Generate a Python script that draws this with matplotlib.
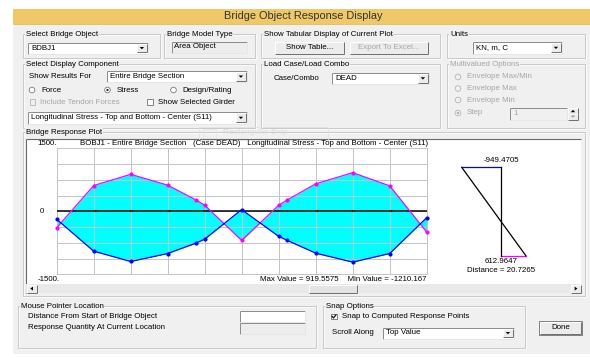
import numpy as np
import matplotlib
matplotlib.use("Agg")
import matplotlib.pyplot as plt
from matplotlib.patches import Rectangle, Circle, Polygon

plt.rcParams['font.family'] = ['Liberation Sans', 'DejaVu Sans']

# ---- response data along the bridge object (stations in m, stress in kN/m2) ----
stations = [0.0, 20.7265, 41.453, 62.1795, 78.0, 82.906, 103.6325,
            124.359, 129.2, 145.0855, 165.812, 186.5385, 207.265]
top_stress = [-191.0, -949.4705, -1195.0, -1005.0, -758.0, -662.0, 40.0,
              -598.0, -694.0, -997.0, -1210.167, -1005.0, -152.0]
bottom_stress = [-391.0, 612.9647, 880.0, 622.0, 271.0, 144.0, -694.0,
                 144.0, 271.0, 654.0, 919.5575, 606.0, -495.0]
cursor_index = 1
y_range = 1500.0
span_grid = 10

W, H = 590, 358
BG = '#F0F0F0'
FS = 5.7

fig = plt.figure(figsize=(W / 100, H / 100), dpi=100)
ax = fig.add_axes([0, 0, 1, 1])
ax.set_xlim(0, W)
ax.set_ylim(H, 0)
ax.axis('off')


def rect(x0, y0, x1, y1, fc, ec='none', lw=0.7, z=1):
    ax.add_patch(Rectangle((x0, y0), x1 - x0, y1 - y0, fc=fc, ec=ec, lw=lw, zorder=z))


def hline(x0, x1, y, c, lw=0.7, z=2):
    ax.plot([x0, x1], [y, y], color=c, lw=lw, zorder=z, solid_capstyle='butt')


def vline(x, y0, y1, c, lw=0.7, z=2):
    ax.plot([x, x], [y0, y1], color=c, lw=lw, zorder=z, solid_capstyle='butt')


def txt(x, y, s, color='#000000', size=FS, ha='left', z=5, **kw):
    ax.text(x, y, s, color=color, fontsize=size, ha=ha, va='center', zorder=z, **kw)


def sunken(x0, y0, x1, y1, fc='white', z=2):
    rect(x0, y0, x1, y1, fc, z=z)
    hline(x0, x1, y0, '#8A8A8A', z=z + 0.1)
    vline(x0, y0, y1, '#8A8A8A', z=z + 0.1)
    hline(x0, x1, y1, '#E6E6E6', z=z + 0.1)
    vline(x1, y0, y1, '#E6E6E6', z=z + 0.1)


def raised(x0, y0, x1, y1, fc='#ECECEC', z=3):
    rect(x0, y0, x1, y1, fc, z=z)
    hline(x0, x1, y0, 'white', z=z + 0.1)
    vline(x0, y0, y1, 'white', z=z + 0.1)
    hline(x0, x1, y1, '#6E6E6E', z=z + 0.1)
    vline(x1, y0, y1, '#6E6E6E', z=z + 0.1)


def group(x0, y0, x1, y1, label, color='#000000'):
    rect(x0, y0, x1, y1, 'none', ec='#C9C9C9', lw=0.7, z=1.5)
    rect(x0 + 0.8, y0 + 0.8, x1 + 0.8, y1 + 0.8, 'none', ec='white', lw=0.5, z=1.4)
    ax.text(x0 + 3, y0, label, color=color, fontsize=FS, ha='left', va='center', zorder=3,
            bbox=dict(fc=BG, ec='none', pad=0.4))


def combo(x0, y0, x1, y1, label):
    sunken(x0, y0, x1, y1)
    raised(x1 - 11, y0 + 1.2, x1 - 1.2, y1 - 1.2)
    cx, cy = x1 - 6.1, (y0 + y1) / 2
    ax.add_patch(Polygon([[cx - 2.2, cy - 1], [cx + 2.2, cy - 1], [cx, cy + 1.3]],
                         closed=True, fc='black', ec='none', zorder=4))
    txt(x0 + 3, (y0 + y1) / 2, label)


def button(x0, y0, x1, y1, label, color='#000000'):
    raised(x0, y0, x1, y1)
    txt((x0 + x1) / 2, (y0 + y1) / 2, label, color=color, ha='center')


def radio(x, y, label, checked=False, enabled=True):
    ec = '#7A7A7A' if enabled else '#B5B5B5'
    ax.add_patch(Circle((x, y), 2.8, fc='white' if enabled else BG, ec=ec, lw=0.6, zorder=3))
    if checked:
        ax.add_patch(Circle((x, y), 1.1, fc='#222222' if enabled else '#A8A8A8', ec='none', zorder=4))
    txt(x + 9, y, label, color='#000000' if enabled else '#A6A6A6')


def checkbox(x, y, label, checked=False, enabled=True):
    ec = '#6E6E6E' if enabled else '#B5B5B5'
    rect(x - 2.8, y - 2.8, x + 2.8, y + 2.8, 'white' if enabled else BG, ec=ec, lw=0.6, z=3)
    if checked:
        ax.plot([x - 1.8, x - 0.5, x + 1.9], [y - 0.1, y + 1.5, y - 1.6], color='#111111',
                lw=0.9, zorder=4)
    txt(x + 8, y, label, color='#000000' if enabled else '#A6A6A6')


# ---- window frame ----
rect(13, 9, W, 354, BG, z=0.5)
rect(13, 9, W, 23.5, '#EFC867', z=0.6)
hline(13, W, 23.5, '#E2B955', lw=0.6)
txt(303, 16.3, 'Bridge Object Response Display', color='#333333', size=7.9, ha='center')

# ---- top row ----
group(23, 34, 160, 58, 'Select Bridge Object')
combo(28, 42.5, 148, 53.5, 'BDBJ1')

group(164, 34, 255, 58, 'Bridge Model Type')
sunken(172, 41.5, 247, 52.5, fc='#EDEDED')
txt(174, 46.5, 'Area Object')

group(261, 34, 440, 58, 'Show Tabular Display of Current Plot')
button(275, 41.5, 344, 53.5, 'Show Table...')
button(350, 41.5, 428, 53.5, 'Export To Excel...', color='#A6A6A6')

group(447, 34, 585, 58, 'Units')
combo(473, 42, 562, 53.5, 'KN, m, C')

# ---- second row ----
group(23, 64, 255, 128, 'Select Display Component')
txt(29, 76.5, 'Show Results For')
combo(107, 71, 247, 82, 'Entire Bridge Section')
radio(32, 90, 'Force')
radio(107.5, 90, 'Stress', checked=True)
radio(173.5, 90, 'Design/Rating')
checkbox(32.5, 102, 'Include Tendon Forces', enabled=False)
checkbox(150, 102, 'Show Selected Girder')
combo(28, 112, 247, 123.5, 'Longitudinal Stress - Top and Bottom - Center (S11)')

group(261, 64, 440, 128, 'Load Case/Load Combo')
txt(274, 78, 'Case/Combo')
combo(332, 72.5, 429, 84, 'DEAD')

group(447, 64, 585, 128, 'Multivalued Options', color='#A6A6A6')
radio(458, 77, 'Envelope Max/Min', enabled=False)
radio(458, 88.5, 'Envelope Max', enabled=False)
radio(458, 100, 'Envelope Min', enabled=False)
radio(458, 113, 'Step', checked=True, enabled=False)
sunken(510, 108, 567, 119.5, fc=BG)
txt(513, 113.8, '1', color='#A6A6A6')
raised(568, 108, 578, 113.6)
raised(568, 114, 578, 119.5)
ax.add_patch(Polygon([[570.8, 112.2], [575.2, 112.2], [573, 109.8]], fc='black', ec='none', zorder=4))
ax.add_patch(Polygon([[570.8, 115.4], [575.2, 115.4], [573, 117.8]], fc='#A0A0A0', ec='none', zorder=4))

# ---- response plot panel ----
group(23, 132, 585, 296, 'Bridge Response Plot')
rect(26, 139, 581, 284, 'white', z=1.6)
hline(26, 581, 139, '#6A6A6A', lw=0.8, z=1.7)
vline(26, 139, 293, '#6A6A6A', lw=0.8, z=1.7)
# faint snipping-tool overlay above the plot
rect(199, 127, 328, 139.5, 'none', ec='#E2E2E2', lw=0.6, z=1.8)
txt(223, 133, 'Rectangular Snip', color='#DCDCDC', size=FS + 0.3)
rect(203, 129, 216, 138, 'none', ec='#E4E4E4', lw=0.5, z=1.8)

# scroll bar
rect(26, 284, 581, 293, '#E9E9E9', z=1.7)
raised(27, 284.5, 36.5, 292.8)
raised(571, 284.5, 580.5, 292.8)
raised(309, 284.5, 357, 292.8, fc='#E4E4E4')
ax.add_patch(Polygon([[30.3, 288.6], [33, 286.6], [33, 290.6]], fc='black', ec='none', zorder=4))
ax.add_patch(Polygon([[577.4, 288.6], [574.7, 286.6], [574.7, 290.6]], fc='black', ec='none', zorder=4))

# plot labels
txt(57, 143.3, '1500.', ha='right')
txt(43.5, 211.2, '0', ha='right')
txt(60, 279.3, '-1500.', ha='right')
txt(80, 143.3, 'BOBJ1 - Entire Bridge Section   (Case DEAD)   '
               'Longitudinal Stress - Top and Bottom - Center (S11)')
txt(427, 279.3, 'Max Value = %.4f    Min Value = %.3f'
    % (max(bottom_stress), min(top_stress)), ha='right')

# ---- stress diagram along the bridge ----
gx0, gx1, gy0, gy1 = 56.7, 426.7, 148.3, 274.3
axc = fig.add_axes([gx0 / W, 1 - gy1 / H, (gx1 - gx0) / W, (gy1 - gy0) / H])
axc.set_xlim(stations[0], stations[-1])
axc.set_ylim(-y_range, y_range)
axc.patch.set_visible(False)
axc.set_xticks(np.linspace(stations[0], stations[-1], span_grid + 1))
axc.set_yticks(np.linspace(-y_range, y_range, 9))
axc.grid(True, color='#C4C4C4', lw=0.7)
axc.set_axisbelow(False)
axc.tick_params(length=0, labelbottom=False, labelleft=False)
for s in axc.spines.values():
    s.set_color('#C4C4C4')
    s.set_linewidth(0.7)
axc.fill_between(stations, top_stress, bottom_stress, color='#00FFFF', lw=0, zorder=1)
axc.axhline(0, color='black', lw=1.1, zorder=2.6)
axc.plot(stations, bottom_stress, color='#FF00FF', lw=0.9, marker='o', ms=3.0,
         mec='none', zorder=3, clip_on=False)
axc.plot(stations, top_stress, color='#0000FF', lw=0.9, marker='o', ms=3.0,
         mec='none', zorder=3.1, clip_on=False)

# ---- section stress at cursor location ----
top_c = top_stress[cursor_index]
bot_c = bottom_stress[cursor_index]
sx_c, sy0, sy1 = 500.7, 167.3, 255.7
px_per_unit = 39.0 / 949.4705
half = 1500.0
sw = 2 * half * px_per_unit
axs = fig.add_axes([(sx_c - sw / 2) / W, 1 - sy1 / H, sw / W, (sy1 - sy0) / H])
axs.set_xlim(-half, half)
axs.set_ylim(0, 1)
axs.axis('off')
axs.plot([top_c, 0], [1, 1], color='#0000FF', lw=0.9, clip_on=False)
axs.plot([0, bot_c], [0, 0], color='#FF00FF', lw=0.9, clip_on=False)
axs.plot([0, 0], [0, 1], color='black', lw=0.9, clip_on=False)
axs.plot([top_c, bot_c], [1, 0], color='black', lw=0.9, clip_on=False)
txt(501, 160.6, '%.4f' % top_c, ha='center')
txt(501, 261.2, '%.4f' % bot_c, ha='center')
txt(501, 270.3, 'Distance = %.4f' % stations[cursor_index], ha='center')

# ---- bottom row ----
group(18, 306, 316, 348, 'Mouse Pointer Location')
txt(28, 316.5, 'Distance From Start of Bridge Object')
txt(28, 327.5, 'Response Quantity At Current Location')
sunken(240, 311, 305, 321.5)
sunken(240, 323, 305, 333.5, fc='#EDEDED')

group(323, 306, 525, 348, 'Snap Options')
checkbox(334, 316.5, 'Snap to Computed Response Points', checked=True)
txt(332, 333, 'Scroll Along')
combo(383, 327.5, 514, 338.5, 'Top Value')

button(540, 322, 581, 333.5, 'Done')
rect(538.8, 320.8, 582.2, 334.7, 'none', ec='#6E6E6E', lw=0.6, z=2.9)

fig.savefig('out.png', dpi=100, facecolor='white')
